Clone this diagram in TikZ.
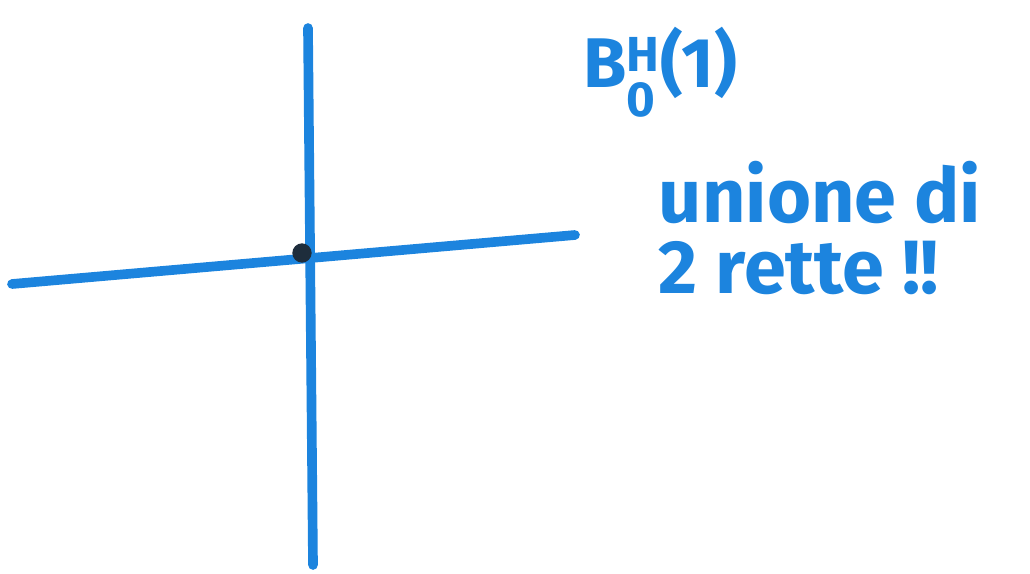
\documentclass[tikz,border=0pt]{standalone}
\usepackage{amsmath,amssymb}
\usepackage{xcolor}
\usepackage{fontspec}
\setsansfont{Fira Sans}
\usepackage{tikz}
\definecolor{pen}{RGB}{28,132,222}
\definecolor{dotc}{RGB}{30,45,60}

\begin{document}
\begin{tikzpicture}[x=0.02cm,y=-0.02cm,
  penline/.style={pen, line width=5.5pt, line cap=round},
  pentext/.style={pen, font=\sffamily\bfseries\fontsize{43}{40}\selectfont, align=left}]

\useasboundingbox (0,0) rectangle (1030,574);

\coordinate (hl) at (12,284);
\coordinate (hr) at (575,235);
\coordinate (vt) at (308,28);
\coordinate (vb) at (313,565);
\coordinate (o) at (302,253);

\draw[penline] (hl) -- (hr);
\draw[penline] (vt) -- (vb);
\fill[dotc] (o) circle (5.5pt);

\node[pentext, font=\sffamily\bfseries\fontsize{40}{44}\selectfont] (ball) at (660,72)
  {B$^{\text{H}}_{\text{0}}$(1)};
\node[pentext] (txt) at (820,228) {unione di\\ 2 rette !!};

\end{tikzpicture}
\end{document}
